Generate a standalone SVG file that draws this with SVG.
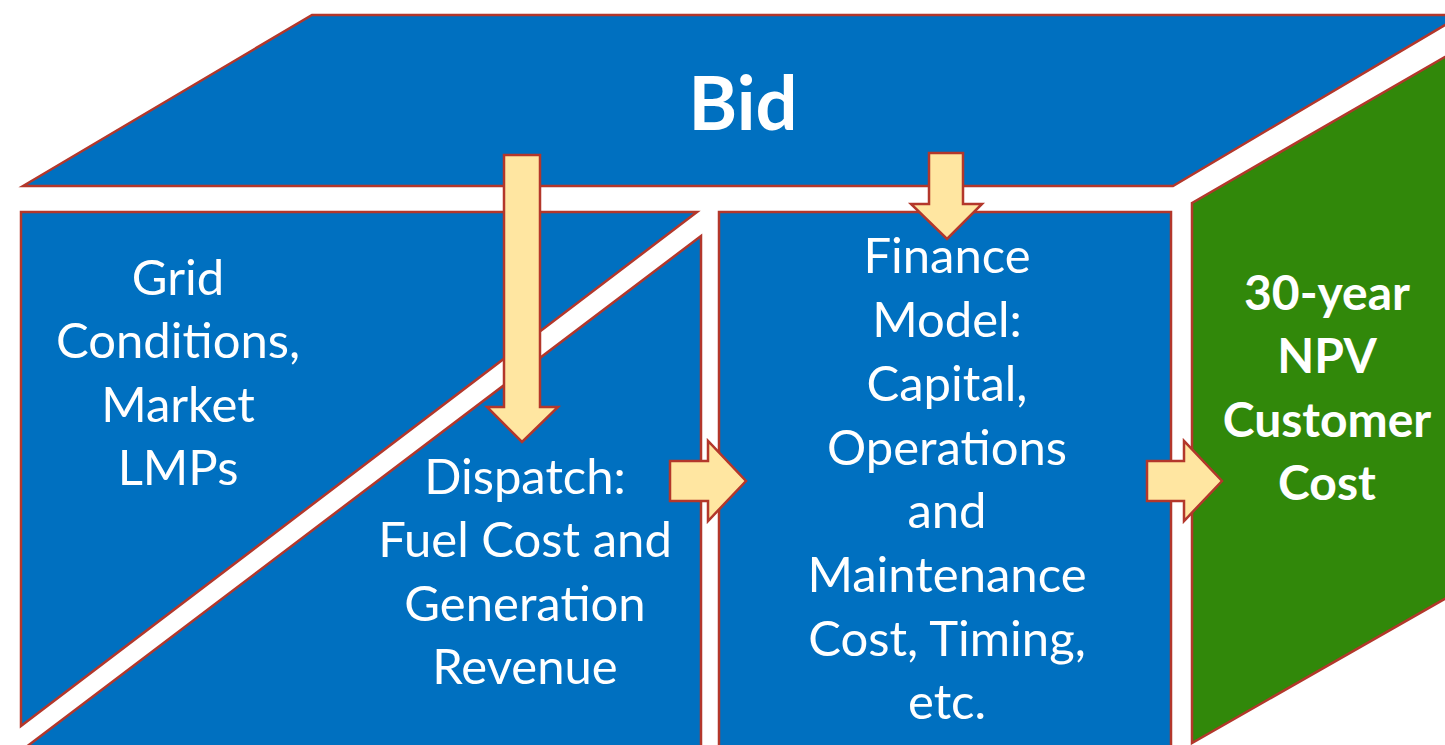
<svg xmlns="http://www.w3.org/2000/svg" width="1445" height="745" viewBox="0 0 1445 745">
<style>
.face{fill:#0070C0;stroke:#B3372B;stroke-width:2.5;stroke-linejoin:miter}
.green{fill:#31880A;stroke:#B3372B;stroke-width:2.5}
.arrow{fill:#FFE6A1;stroke:#B3372B;stroke-width:2.5;stroke-linejoin:miter}
.t{font-family:Lato,"Open Sans","Liberation Sans",sans-serif;font-size:49px;fill:#FFFFFF;text-anchor:middle}
.b{font-weight:bold;font-size:48px}
</style>
<rect width="1445" height="745" fill="#FFFFFF"/>
<g id="bid">
<polygon class="face" points="23,186 312,15 1462,15 1173,186"/>
<text class="t b" x="743" y="130" style="font-size:74px">Bid</text>
</g>
<g id="grid">
<polygon class="face" points="21,212 697,212 21,726"/>
<text class="t" x="178" y="295">Grid</text>
<text class="t" x="178" y="358">Conditions,</text>
<text class="t" x="178" y="422">Market</text>
<text class="t" x="178" y="485">LMPs</text>
</g>
<g id="dispatch">
<polygon class="face" points="701,236 701,760 9,760"/>
<text class="t" x="525" y="494">Dispatch:</text>
<text class="t" x="525" y="557">Fuel Cost and</text>
<text class="t" x="525" y="621">Generation</text>
<text class="t" x="525" y="684">Revenue</text>
</g>
<g id="finance">
<rect class="face" x="719" y="212" width="452" height="560"/>
<text class="t" x="947" y="273">Finance</text>
<text class="t" x="947" y="337">Model:</text>
<text class="t" x="947" y="401">Capital,</text>
<text class="t" x="947" y="465">Operations</text>
<text class="t" x="947" y="528">and</text>
<text class="t" x="947" y="592">Maintenance</text>
<text class="t" x="947" y="656">Cost, Timing,</text>
<text class="t" x="947" y="719">etc.</text>
</g>
<g id="npv">
<polygon class="green" points="1192,203 1462,47 1462,589 1192,743"/>
<text class="t b" x="1327" y="310">30-year</text>
<text class="t b" x="1327" y="373">NPV</text>
<text class="t b" x="1327" y="437">Customer</text>
<text class="t b" x="1327" y="500">Cost</text>
</g>
<g id="connectors">
<polygon class="arrow" points="504,155 540,155 540,407 558,407 522,442 487,407 504,407"/>
<polygon class="arrow" points="929,153 963,153 963,204 982,204 947,239 911,204 929,204"/>
<polygon class="arrow" points="670,461 708,461 708,441 746,481 708,521 708,501 670,501"/>
<polygon class="arrow" points="1147,461 1184,461 1184,441 1222,481 1184,521 1184,501 1147,501"/>
</g>
</svg>
